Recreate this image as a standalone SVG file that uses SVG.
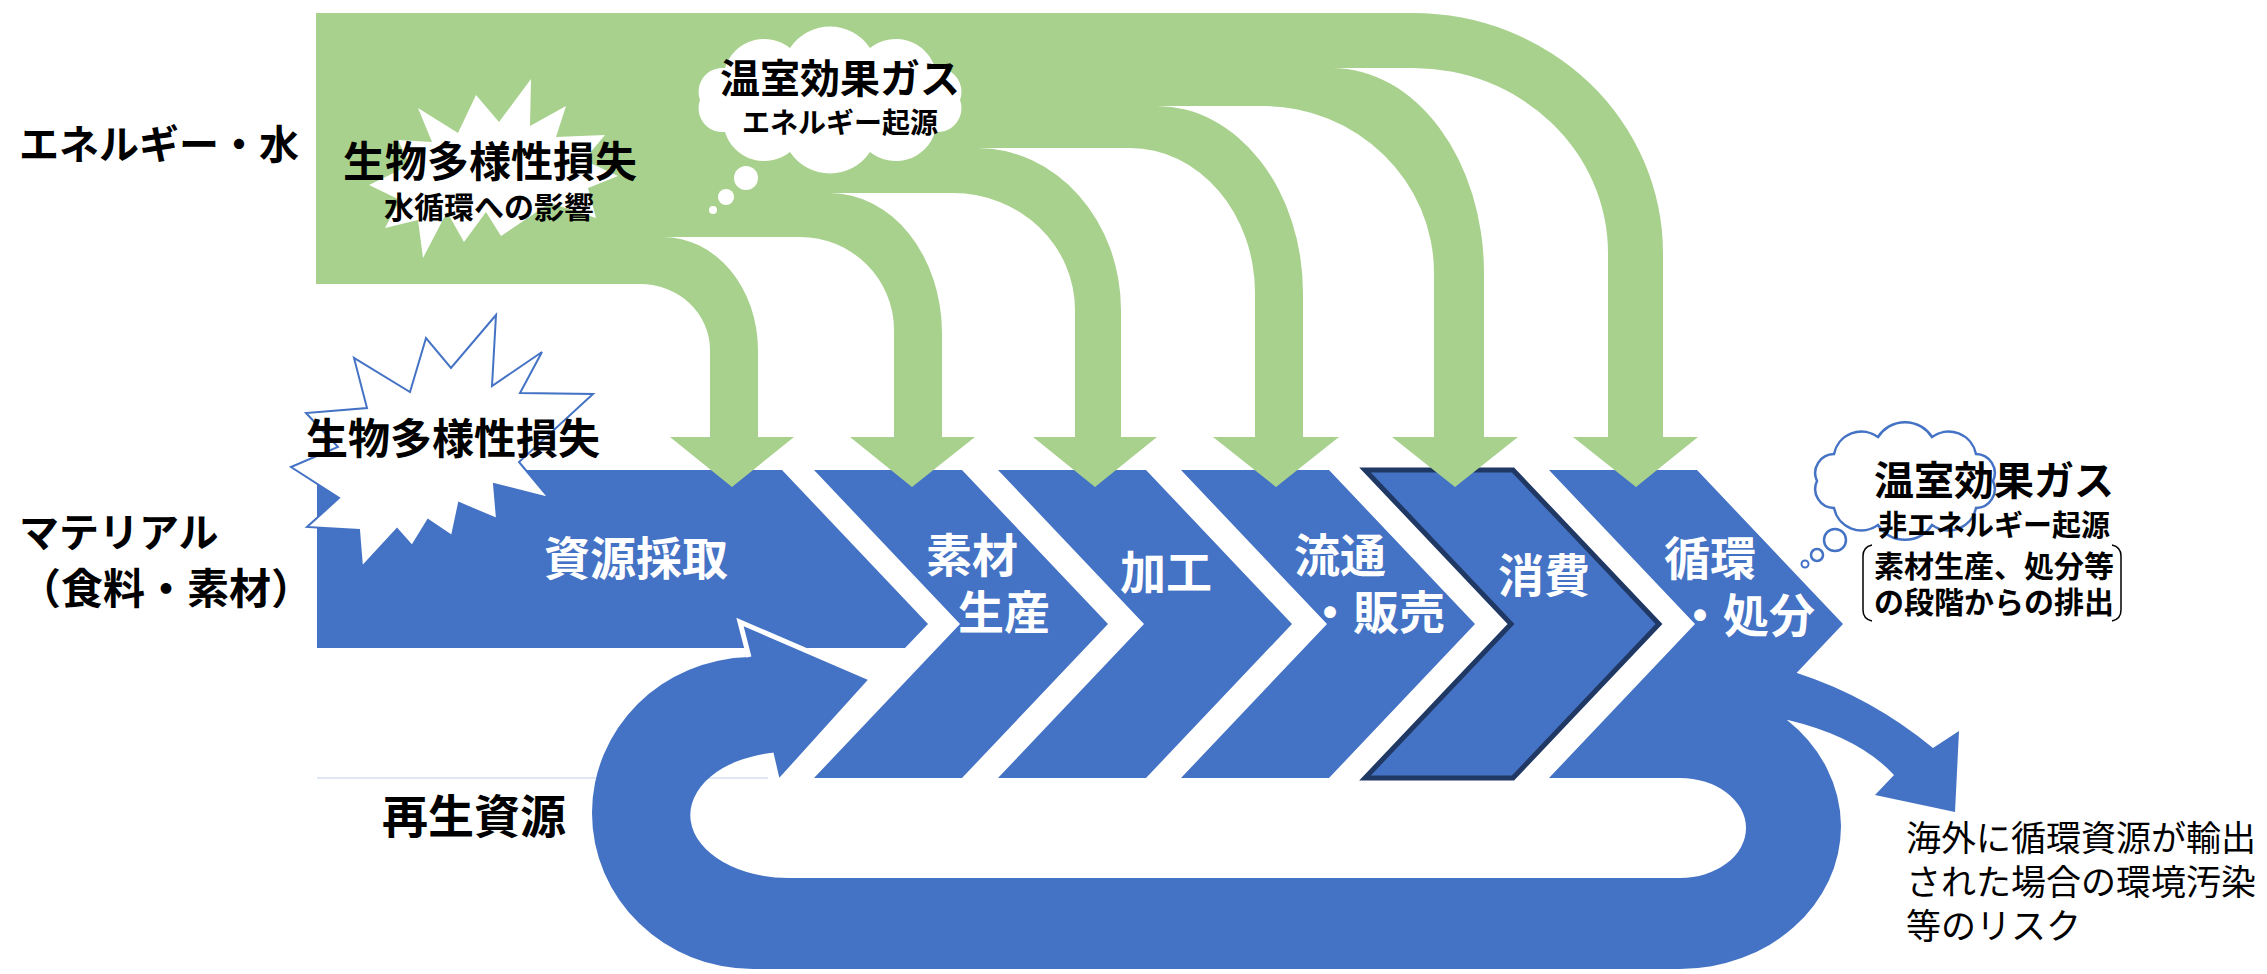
<svg xmlns="http://www.w3.org/2000/svg" width="2267" height="974" viewBox="0 0 2267 974">
<style>
.g{fill:#A9D18E}
.b{fill:#4472C4}
.t{font-family:'Liberation Sans','Noto Sans CJK JP',sans-serif;font-weight:700;fill:#000}
.wt{fill:#fff}
.n{font-weight:400}
.m{text-anchor:middle}
.e{text-anchor:end}
</style>
<rect width="2267" height="974" fill="#fff"/>

<g id="material-flow">
  <path id="n-shigen" class="b" d="M317,470 L782,470 L928,624 L905,648 L317,648 Z"/>
  <line x1="317" y1="778" x2="768" y2="778" stroke="#d5def0" stroke-width="1.5"/>
  <polygon id="n-sozai" class="b" points="814,470 962,470 1108,624 962,778 814,778 960,624"/>
  <polygon id="n-kakou" class="b" points="998,470 1146,470 1292,624 1146,778 998,778 1144,624"/>
  <polygon id="n-ryutsu" class="b" points="1181,470 1329,470 1475,624 1329,778 1181,778 1327,624"/>
  <polygon id="n-shohi" class="b" points="1365,470 1513,470 1659,624 1513,778 1365,778 1511,624" stroke="#203864" stroke-width="5" stroke-linejoin="miter"/>
  <polygon id="n-junkan" class="b" points="1549,470 1697,470 1843,624 1697,778 1549,778 1695,624"/>
</g>

<g id="connectors">
  <path id="c-loop" class="b" d="M749,657 L740,622 L872,679 L778,783 L771,753 A98 63 0 0 0 790,878 L1680,878 A66 50 0 0 0 1746,828 A66 50 0 0 0 1680,778 L1690,778 L1745,720 L1787,720 A161 143 0 0 1 1841,826 A161 143 0 0 1 1680,969 L753,969 A161 156 0 0 1 592,813 A161 156 0 0 1 749,657 Z"/>
  <polyline points="749,657 740,622 872,679 778,783 771,753" fill="none" stroke="#fff" stroke-width="5" stroke-linejoin="miter"/>
  <path id="c-export" class="b" d="M1760,650 L1797,673 Q1871,697 1933,748 L1959,731 L1955,812 L1875,795 L1894,775 Q1859,737 1788,720 L1748,720 Z"/>
  <path id="c-energy" class="g" d="M316,13 L1413,13 A250 240 0 0 1 1663,253 L1663,437 L1698,437 L1636,487 L1573,437 L1608,437 L1608,253 A195 185 0 0 0 1413,68 L1332,68 A152 205 0 0 1 1484,273 L1484,437 L1518,437 L1455,487 L1392,437 L1434,437 L1434,273 A171 167 0 0 0 1263,106 L1157,106 A146 187 0 0 1 1303,293 L1303,437 L1339,437 L1276,487 L1213,437 L1255,437 L1255,293 A125 145 0 0 0 1130,148 L977,148 A144 162 0 0 1 1121,310 L1121,437 L1157,437 L1095,487 L1033,437 L1075,437 L1075,310 A122 117 0 0 0 953,193 L830,193 A112 140 0 0 1 942,333 L942,437 L975,437 L912,487 L850,437 L894,437 L894,330 A94 93 0 0 0 800,237 L663,237 A95 113 0 0 1 758,350 L758,437 L794,437 L732,487 L670,437 L710,437 L710,350 A70 66 0 0 0 640,284 L316,284 Z"/>
</g>

<g id="n-ghg-energy">
  <path fill="#fff" d="M700,100 A24 24 0 0 1 725,68 A41 41 0 0 1 790,48 A48 48 0 0 1 870,48 A41 41 0 0 1 935,68 A24 24 0 0 1 960,100 A24 24 0 0 1 935,132 A41 41 0 0 1 870,152 A48 48 0 0 1 790,152 A41 41 0 0 1 725,132 A24 24 0 0 1 700,100 Z"/>
  <circle cx="746" cy="178" r="12" fill="#fff"/>
  <circle cx="726" cy="197" r="8" fill="#fff"/>
  <circle cx="713" cy="210" r="4" fill="#fff"/>
  <text class="t m" x="840" y="93" font-size="40">温室効果ガス</text>
  <text class="t m" x="840" y="133" font-size="28">エネルギー起源</text>
</g>

<g id="n-bio-water">
  <polygon fill="#fff" points="418,108 458,133 476,95 499,122 531,79 530,126 566,106 556,137 605,135 584,160 618,176 588,188 596,218 550,203 501,236 486,212 464,242 447,212 423,258 418,220 385,228 400,200 369,185 410,165 398,140 432,142"/>
  <text class="t m" x="490" y="177" font-size="42">生物多様性損失</text>
  <text class="t m" x="489" y="218" font-size="30">水循環への影響</text>
</g>

<g id="n-bio-material">
  <polygon fill="#fff" stroke="#4472C4" stroke-width="2" points="496,315 492,386 542,352 520,393 593,394 519,462 549,498 494,484 497,519 459,503 452,536 428,520 412,546 397,529 362,567 359,530 307,527 339,498 291,467 338,447 306,413 367,408 354,358 410,392 426,338 451,368"/>
  <text class="t m" x="453" y="454" font-size="42">生物多様性損失</text>
</g>

<g id="n-ghg-nonenergy">
  <path fill="#fff" stroke="#4472C4" stroke-width="2.5" d="M1817,481 A19 19 0 0 1 1834,454 A28 28 0 0 1 1878,437 A32 32 0 0 1 1932,437 A28 28 0 0 1 1976,454 A19 19 0 0 1 1993,481 A19 19 0 0 1 1976,508 A28 28 0 0 1 1932,525 A32 32 0 0 1 1878,525 A28 28 0 0 1 1834,508 A19 19 0 0 1 1817,481 Z"/>
  <circle cx="1835" cy="540" r="11" fill="#fff" stroke="#4472C4" stroke-width="2.5"/>
  <circle cx="1817" cy="555" r="6" fill="#fff" stroke="#4472C4" stroke-width="2.5"/>
  <circle cx="1805" cy="564" r="3.5" fill="#fff" stroke="#4472C4" stroke-width="2"/>
  <text class="t m" x="1994" y="495" font-size="40">温室効果ガス</text>
  <text class="t m" x="1994" y="536" font-size="29">非エネルギー起源</text>
  <path d="M1872,545 Q1863,547 1863,556 L1863,610 Q1863,619 1872,621 M2112,545 Q2121,547 2121,556 L2121,610 Q2121,619 2112,621" fill="none" stroke="#000" stroke-width="1.5"/>
  <text class="t m" x="1994" y="577" font-size="30">素材生産、処分等</text>
  <text class="t m" x="1994" y="613" font-size="30">の段階からの排出</text>
</g>

<g id="labels">
  <text class="t" x="19" y="159" font-size="40">エネルギー・水</text>
  <text class="t" x="19" y="547" font-size="40">マテリアル</text>
  <text class="t" x="19" y="604" font-size="42">（食料・素材）</text>
  <text class="t" x="382" y="833" font-size="46">再生資源</text>
  <text class="t n" x="1906" y="851" font-size="35">海外に循環資源が輸出</text>
  <text class="t n" x="1906" y="895" font-size="35">された場合の環境汚染</text>
  <text class="t n" x="1906" y="939" font-size="35">等のリスク</text>
</g>

<g id="chevron-labels">
  <text class="t wt m" x="636" y="575" font-size="46">資源採取</text>
  <text class="t wt m" x="972" y="572" font-size="46">素材</text>
  <text class="t wt m" x="1004" y="629" font-size="46">生産</text>
  <text class="t wt m" x="1166" y="589" font-size="46">加工</text>
  <text class="t wt m" x="1340" y="572" font-size="46">流通</text>
  <text class="t wt e" x="1445" y="629" font-size="46">・販売</text>
  <text class="t wt m" x="1544" y="592" font-size="46">消費</text>
  <text class="t wt m" x="1710" y="575" font-size="46">循環</text>
  <text class="t wt e" x="1815" y="632" font-size="46">・処分</text>
</g>
</svg>
